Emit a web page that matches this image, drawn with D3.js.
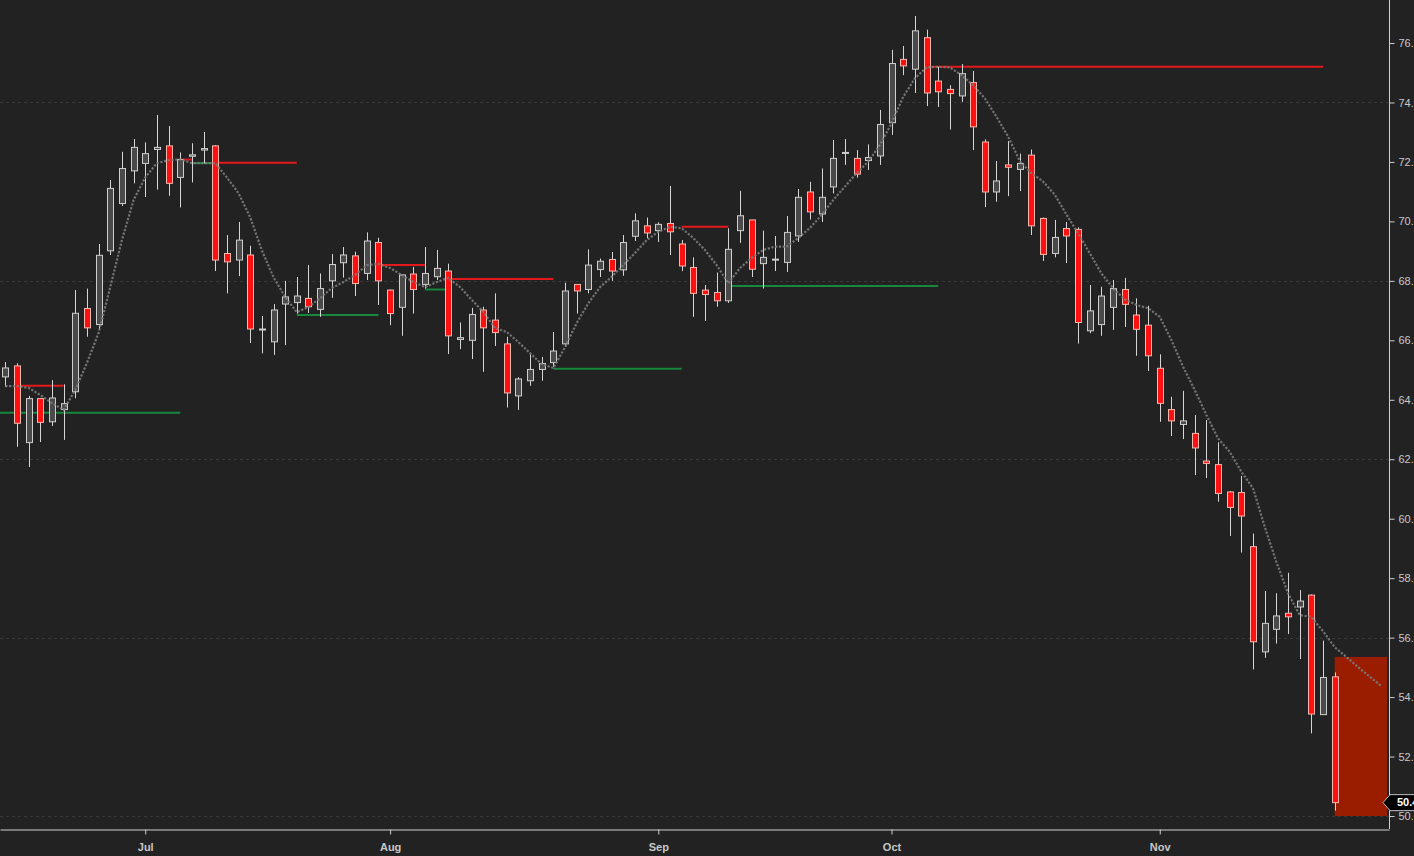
<!DOCTYPE html>
<html>
<head>
<meta charset="utf-8">
<script src="https://cdn.jsdelivr.net/npm/d3@7"></script>
<style>
  body { margin: 0; background: #222222; overflow: hidden; }
  svg { display: block; }
</style>
</head>
<body>
<svg></svg>
<script>
// candle values, one per trading day (index 0 = first visible day)
var opens = [64.77,65.14,62.56,64.04,63.26,63.67,64.27,67.07,66.53,69.01,
  70.60,71.70,71.95,72.42,72.54,71.48,72.19,72.40,72.54,68.92,
  68.70,68.87,66.36,65.95,67.22,67.27,67.41,67.04,68.00,68.61,
  68.84,68.25,69.29,67.69,67.11,68.23,67.88,68.14,68.33,66.03,
  66.00,67.02,66.68,65.88,64.13,64.64,65.02,65.25,65.88,67.88,
  67.71,68.38,68.72,68.37,69.50,69.85,69.69,69.93,69.24,68.45,
  67.69,67.61,67.33,69.69,70.05,68.58,68.70,68.62,69.51,70.99,
  70.25,71.16,72.29,72.12,72.05,72.20,73.32,75.45,75.12,76.18,
  74.72,74.44,74.22,74.67,72.67,70.99,71.90,71.75,72.23,70.10,
  68.92,69.76,69.73,66.32,66.53,67.11,67.71,66.85,66.51,65.06,
  63.67,63.17,62.87,61.94,61.82,60.90,60.88,59.06,55.52,56.28,
  56.82,57.03,57.43,53.41,54.68]
var highs = [65.27,65.23,64.13,64.06,64.66,64.52,67.69,67.74,69.24,71.39,
  72.34,72.77,72.66,73.58,73.21,72.32,72.63,73.01,72.57,69.54,
  69.98,69.18,66.82,67.22,68.00,68.13,68.53,68.25,68.90,69.14,
  68.98,69.63,69.45,67.71,68.22,68.47,69.14,69.04,68.58,66.60,
  67.09,67.13,67.58,66.12,64.76,65.54,65.44,66.28,67.94,67.88,
  69.06,68.75,68.97,69.54,70.27,70.13,69.97,71.19,69.37,68.79,
  67.86,68.28,69.77,71.03,70.05,69.69,69.51,70.18,71.09,71.33,
  71.78,72.74,72.77,72.40,72.59,73.75,75.77,75.90,76.91,76.45,
  75.20,74.58,75.29,75.06,72.76,72.03,72.70,72.28,72.42,70.13,
  70.05,69.98,69.80,67.86,67.80,68.03,68.10,67.41,67.16,65.53,
  64.10,64.30,63.49,63.32,62.57,60.93,61.44,59.50,57.57,57.49,
  58.18,57.60,57.45,55.90,54.83]
var lows = [64.43,62.42,61.74,62.58,63.12,62.65,64.05,66.12,66.35,68.87,
  70.52,71.28,70.82,71.07,70.86,70.47,71.31,71.95,68.33,67.58,
  68.16,65.91,65.56,65.51,65.84,66.90,66.92,66.79,67.43,68.11,
  67.49,68.03,67.19,66.51,66.15,66.90,67.74,68.03,65.54,65.70,
  65.37,64.94,65.81,63.74,63.66,64.47,64.64,65.11,65.78,66.90,
  67.58,68.13,68.00,68.17,69.34,69.43,69.31,68.87,68.33,66.79,
  66.65,67.13,67.26,69.28,68.13,67.74,68.33,68.30,69.31,70.06,
  69.98,70.94,71.90,71.47,71.73,71.90,72.91,74.92,74.32,73.88,
  73.85,73.09,74.02,72.40,70.48,70.66,70.85,71.02,69.54,68.67,
  68.79,68.60,65.89,66.24,66.15,66.35,66.45,65.48,64.97,63.26,
  62.78,62.68,61.47,61.37,60.57,59.42,58.86,54.93,55.32,55.80,
  56.12,55.28,52.78,53.41,50.18]
var closes = [65.07,63.21,64.04,63.24,64.06,63.87,66.91,66.42,68.86,71.11,
  71.78,72.49,72.28,72.49,71.28,72.08,72.24,72.45,68.70,68.64,
  69.37,66.38,66.38,67.02,67.46,67.49,67.13,67.74,68.55,68.87,
  67.91,69.34,68.00,66.90,68.20,67.71,68.25,68.42,66.15,66.09,
  66.87,66.42,66.26,64.23,64.70,65.02,65.22,65.64,67.66,67.66,
  68.53,68.66,68.33,69.29,70.02,69.61,69.90,69.65,68.50,67.58,
  67.54,67.33,69.06,70.19,68.39,68.79,68.73,69.63,70.81,70.32,
  70.81,72.12,72.32,71.59,72.15,73.26,75.31,75.23,76.41,74.32,
  74.36,74.30,74.97,73.18,70.99,71.36,71.82,71.95,69.85,68.89,
  69.46,69.51,66.60,66.99,67.49,67.74,67.21,66.37,65.48,63.88,
  63.29,63.29,62.38,61.86,60.85,60.38,60.09,55.86,56.48,56.73,
  56.70,57.23,53.43,54.66,50.45]

// dotted moving average, read per day (runs 4 days past the last candle)
var maValues = [64.46,64.46,64.40,64.16,63.89,63.66,64.33,65.24,66.25,67.79,
  69.37,70.72,71.48,71.96,72.06,72.09,71.96,71.96,71.96,71.48,
  70.95,70.14,69.03,68.12,67.46,66.95,67.12,67.42,67.76,67.96,
  68.20,68.53,68.57,68.43,68.20,67.96,67.79,67.96,68.10,67.79,
  67.36,66.95,66.41,66.28,65.94,65.57,65.20,65.07,65.77,66.58,
  67.25,67.79,68.14,68.53,68.94,69.37,69.65,69.82,69.77,69.44,
  69.04,68.53,67.92,68.43,68.77,69.04,69.15,69.15,69.44,69.78,
  70.21,70.72,71.17,71.62,72.01,72.57,73.30,74.19,74.81,75.18,
  75.20,75.18,74.92,74.58,74.14,73.52,72.85,72.03,71.62,71.34,
  70.90,70.23,69.60,68.93,68.25,67.75,67.38,67.19,67.08,66.79,
  66.01,65.11,64.33,63.49,62.70,62.25,61.58,61.02,59.73,58.55,
  57.49,56.76,56.69,56.22,55.68,55.35,55.01,54.69,54.37]

// horizontal levels: from day, to day, price, kind
var levelFrom  = [-1, 1, 15, 16, 18, 25, 32, 36, 38, 47, 58, 62, 79]
var levelTo    = [15, 5, 16, 18, 25, 32, 36, 38, 47, 58, 62, 80, 113]
var levelValue = [63.56, 64.47, 72.08, 71.96, 71.97, 66.85, 68.53, 67.71, 68.06, 65.04, 69.82, 67.83, 75.20]
var levelKind  = ["low","high","high","low","high","low","high","low","high","low","high","low","high"]

// projection zone after the last candle
var zoneFrom = 114, zoneTo = 118.5, zoneHigh = 55.35, zoneLow = 50.0

var monthLabels = ["Jul", "Aug", "Sep", "Oct", "Nov"]
var monthIndex = [12, 33, 56, 76, 99]
var gridValues = [50, 56, 62, 68, 74]
var priceTicks = [50, 52, 54, 56, 58, 60, 62, 64, 66, 68, 70, 72, 74, 76]
var lastPrice = 50.45

var width = 1414
var height = 856
var plotRight = 1389
var plotBottom = 829
var bodyWidth = 7

var xScale = d3.scaleLinear()
  .domain([-0.455, 118.66])
  .range([0, plotRight])

var yScale = d3.scaleLinear()
  .domain([49.563, 77.447])
  .range([plotBottom, 0])

var svg = d3.select("svg")
  .attr("width", width)
  .attr("height", height)
  .style("background", "#222222")
  .style("font-family", "'Liberation Sans', Arial, sans-serif")

svg.append("clipPath")
  .attr("id", "plot")
  .append("rect")
  .attr("width", plotRight)
  .attr("height", plotBottom)

// grid
svg.append("g")
  .selectAll("line")
  .data(gridValues)
  .enter()
    .append("line")
    .attr("x1", 0)
    .attr("x2", plotRight)
    .attr("y1", d => Math.round(yScale(d)) + 0.5)
    .attr("y2", d => Math.round(yScale(d)) + 0.5)
    .attr("stroke", "#383838")
    .attr("stroke-dasharray", "3,3")

var plot = svg.append("g").attr("clip-path", "url(#plot)")

plot.append("rect")
  .attr("x", xScale(zoneFrom))
  .attr("width", xScale(zoneTo) - xScale(zoneFrom))
  .attr("y", yScale(zoneHigh))
  .attr("height", yScale(zoneLow) - yScale(zoneHigh))
  .attr("fill", "#9a1d00")

plot.append("g")
  .selectAll("line")
  .data(levelValue)
  .enter()
    .append("line")
    .attr("x1", (d, i) => xScale(levelFrom[i]))
    .attr("x2", (d, i) => xScale(levelTo[i]))
    .attr("y1", d => yScale(d))
    .attr("y2", d => yScale(d))
    .attr("stroke", (d, i) => levelKind[i] == "high" ? "#e3191b" : "#17873b")
    .attr("stroke-width", 2)

var days = d3.range(closes.length)

var candles = plot.append("g")
  .selectAll("g")
  .data(days)
  .enter()
    .append("g")

candles.append("line")
  .attr("x1", i => Math.round(xScale(i)) + 0.5)
  .attr("x2", i => Math.round(xScale(i)) + 0.5)
  .attr("y1", i => yScale(highs[i]))
  .attr("y2", i => yScale(lows[i]))
  .attr("stroke", "#d6d6d6")

candles.append("rect")
  .attr("x", i => Math.round(xScale(i)) - 3 + 0.5)
  .attr("width", bodyWidth - 1)
  .attr("y", i => yScale(Math.max(opens[i], closes[i])))
  .attr("height", i => Math.max(1, Math.abs(yScale(opens[i]) - yScale(closes[i]))))
  .attr("fill", i => closes[i] >= opens[i] ? "#4a4a4a" : "#ff1010")
  .attr("stroke", i => closes[i] >= opens[i] ? "#cfcfcf" : "#f4b8b0")
  .attr("stroke-width", 1)

var maLine = d3.line()
  .x((d, i) => xScale(i))
  .y(d => yScale(d))

plot.append("path")
  .datum(maValues)
  .attr("d", maLine)
  .attr("fill", "none")
  .attr("stroke", "#7c7c7c")
  .attr("stroke-opacity", 0.9)
  .attr("stroke-width", 2.2)
  .attr("stroke-dasharray", "2.2,1.6")

// axes
var yAxis = d3.axisRight(yScale)
  .tickValues(priceTicks)
  .tickFormat(d3.format(".2f"))
  .tickSize(5)
  .tickSizeOuter(0)
  .tickPadding(4)

var yAxisG = svg.append("g")
  .attr("transform", "translate(" + (plotRight + 0.5) + ",0)")
  .call(yAxis)

var xAxis = d3.axisBottom(xScale)
  .tickValues(monthIndex)
  .tickFormat((d, i) => monthLabels[i])
  .tickSize(5)
  .tickSizeOuter(0)
  .tickPadding(9)

var xAxisG = svg.append("g")
  .attr("transform", "translate(0," + (plotBottom + 0.5) + ")")
  .call(xAxis)

yAxisG.select(".domain").attr("d", "M0,0V" + plotBottom)

svg.selectAll(".domain").attr("stroke", "#d0d0d0")
svg.selectAll(".tick line").attr("stroke", "#d0d0d0")
svg.selectAll(".tick text")
  .attr("fill", "#c8c8c8")
  .style("font-size", "11px")
xAxisG.selectAll(".tick text").style("font-weight", "bold")

// last price tag
var yLast = yScale(lastPrice)
svg.append("path")
  .attr("d", "M" + (plotRight - 6) + "," + yLast + "L" + (plotRight + 1) + "," + (yLast - 8) +
    "H" + (width + 2) + "V" + (yLast + 8) + "H" + (plotRight + 1) + "Z")
  .attr("fill", "#000")
  .attr("stroke", "#bdbdbd")

svg.append("text")
  .attr("x", plotRight + 8)
  .attr("y", yLast)
  .attr("dy", "0.35em")
  .attr("fill", "#fff")
  .style("font-size", "11px")
  .style("font-weight", "bold")
  .text(d3.format(".2f")(lastPrice))
</script>
</body>
</html>
